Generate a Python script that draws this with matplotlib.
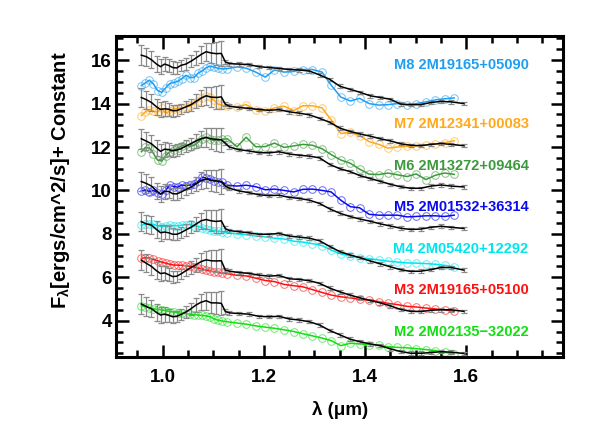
"""Near-IR spectra of M dwarfs (coloured) against spectral standards (black), offset by a constant."""

import matplotlib

matplotlib.use("Agg", force=True)

import matplotlib.pyplot as plt
from matplotlib.ticker import MultipleLocator

plt.rcParams["font.family"] = ["Liberation Sans", "DejaVu Sans"]
plt.rcParams["font.weight"] = "bold"
plt.rcParams["mathtext.fontset"] = "custom"
plt.rcParams["mathtext.rm"] = "Liberation Sans:bold"
plt.rcParams["mathtext.default"] = "rm"

# wavelength grids (microns)
std_wave = [0.958, 0.968, 0.978, 0.988, 0.996, 1.004, 1.012, 1.020, 1.028, 1.036,
            1.046, 1.056, 1.066, 1.076, 1.086, 1.096, 1.106, 1.116, 1.124, 1.132,
            1.15, 1.17, 1.19, 1.21, 1.23, 1.25, 1.27, 1.29, 1.31, 1.33,
            1.35, 1.37, 1.39, 1.41, 1.43, 1.45, 1.47, 1.49, 1.51, 1.53,
            1.55, 1.57, 1.595]
std_err = [0.45, 0.42, 0.40, 0.38, 0.36, 0.34, 0.30, 0.28, 0.26, 0.25,
           0.26, 0.28, 0.32, 0.38, 0.42, 0.48, 0.52, 0.56, 0.10, 0.09,
           0.08, 0.08, 0.08, 0.08, 0.08, 0.08, 0.08, 0.08, 0.08, 0.08,
           0.08, 0.08, 0.08, 0.08, 0.08, 0.08, 0.08, 0.08, 0.08, 0.08,
           0.08, 0.08, 0.08]
obj_wave = [0.958, 0.966, 0.974, 0.982, 0.990, 0.998, 1.006, 1.014, 1.022, 1.030,
            1.038, 1.046, 1.054, 1.062, 1.070, 1.078, 1.086, 1.094, 1.102, 1.110,
            1.118,
            1.128, 1.147, 1.165, 1.184, 1.203, 1.221, 1.240, 1.259, 1.277, 1.296,
            1.315, 1.333, 1.352, 1.371, 1.389, 1.408, 1.427, 1.445, 1.464, 1.483,
            1.501, 1.520, 1.539, 1.557, 1.576]

# spectral standards (black) + constant
m8_std = [16.23, 16.16, 16.02, 15.82, 15.70, 15.82, 15.76, 15.66, 15.64, 15.76,
          15.82, 15.95, 16.10, 16.26, 16.39, 16.33, 16.30, 16.31, 15.92, 15.84,
          15.82, 15.80, 15.70, 15.66, 15.62, 15.57, 15.55, 15.50, 15.32, 15.12,
          14.80, 14.66, 14.52, 14.36, 14.28, 14.20, 13.98, 13.95, 13.95, 14.05,
          14.10, 14.08, 14.00]
m7_std = [14.28, 14.18, 14.05, 13.85, 13.73, 13.76, 13.74, 13.67, 13.68, 13.75,
          13.85, 13.95, 14.10, 14.25, 14.36, 14.30, 14.28, 14.31, 13.97, 13.88,
          13.82, 13.78, 13.73, 13.69, 13.72, 13.62, 13.56, 13.48, 13.32, 13.14,
          12.87, 12.72, 12.60, 12.50, 12.38, 12.28, 12.15, 12.08, 12.06, 12.12,
          12.16, 12.12, 12.06]
m6_std = [12.38, 12.27, 12.15, 11.95, 11.80, 11.90, 11.88, 11.83, 11.86, 11.92,
          12.04, 12.15, 12.28, 12.38, 12.44, 12.38, 12.35, 12.33, 12.17, 12.00,
          11.88, 11.82, 11.74, 11.73, 11.78, 11.68, 11.62, 11.58, 11.50, 11.20,
          11.00, 10.87, 10.68, 10.55, 10.42, 10.28, 10.17, 10.10, 10.10, 10.20,
          10.25, 10.20, 10.16]
m5_std = [10.41, 10.32, 10.20, 9.98, 9.83, 9.96, 9.95, 9.85, 9.84, 9.92,
          10.04, 10.15, 10.30, 10.45, 10.53, 10.46, 10.44, 10.41, 10.20, 10.10,
          9.98, 9.90, 9.80, 9.76, 9.78, 9.68, 9.63, 9.55, 9.40, 9.15,
          8.95, 8.80, 8.68, 8.58, 8.46, 8.36, 8.26, 8.20, 8.22, 8.30,
          8.35, 8.30, 8.25]
m4_std = [8.56, 8.46, 8.40, 8.20, 8.05, 8.08, 8.05, 7.98, 7.98, 8.05,
          8.18, 8.30, 8.45, 8.60, 8.66, 8.60, 8.57, 8.60, 8.24, 8.15,
          8.10, 8.05, 7.98, 7.98, 8.02, 7.90, 7.85, 7.80, 7.68, 7.42,
          7.18, 7.03, 6.90, 6.75, 6.62, 6.48, 6.35, 6.27, 6.28, 6.35,
          6.45, 6.45, 6.33]
m3_std = [6.79, 6.64, 6.50, 6.30, 6.17, 6.20, 6.12, 6.03, 6.05, 6.15,
          6.30, 6.45, 6.58, 6.72, 6.80, 6.76, 6.75, 6.76, 6.33, 6.28,
          6.22, 6.18, 6.10, 6.05, 6.08, 5.93, 5.90, 5.84, 5.72, 5.50,
          5.33, 5.18, 5.05, 4.93, 4.82, 4.68, 4.52, 4.43, 4.42, 4.48,
          4.50, 4.50, 4.43]
m2_std = [4.77, 4.65, 4.55, 4.38, 4.26, 4.30, 4.25, 4.18, 4.20, 4.28,
          4.40, 4.55, 4.72, 4.85, 4.92, 4.82, 4.82, 4.80, 4.42, 4.36,
          4.33, 4.30, 4.20, 4.18, 4.20, 4.08, 4.03, 3.95, 3.80, 3.55,
          3.35, 3.15, 3.03, 2.93, 2.85, 2.70, 2.58, 2.50, 2.50, 2.53,
          2.57, 2.55, 2.49]

# observed objects (coloured) + constant
m8_obj = [14.83, 14.95, 15.08, 14.90, 14.60, 14.52, 14.72, 14.92, 14.97, 15.02,
          15.15, 15.30, 15.20, 15.20, 15.40, 15.50, 15.65, 15.72, 15.68, 15.62,
          15.60,
          15.61, 15.69, 15.63, 15.45, 15.22, 15.55, 15.45, 15.48, 15.57, 15.57,
          15.45, 14.85, 14.30, 14.12, 14.24, 14.00, 13.93, 13.95, 14.00, 13.93,
          14.00, 14.08, 14.17, 14.22, 14.26]
m7_obj = [13.45, 13.62, 13.72, 13.65, 13.60, 13.80, 13.55, 13.65, 13.75, 13.78,
          13.80, 13.83, 13.88, 13.98, 14.10, 14.28, 14.35, 14.30, 14.15, 13.97,
          13.92,
          13.88, 13.86, 13.95, 13.72, 13.66, 13.80, 13.88, 13.68, 13.90, 13.90,
          13.80, 13.25, 12.62, 12.68, 12.52, 12.25, 12.12, 11.95, 12.00, 12.03,
          12.05, 12.10, 12.14, 12.20, 12.29]
m6_obj = [11.78, 11.98, 11.95, 11.70, 11.40, 11.35, 11.60, 11.78, 11.85, 11.95,
          12.05, 12.12, 12.02, 12.08, 12.22, 12.38, 12.45, 12.35, 12.30, 12.32,
          12.36,
          12.38, 12.01, 12.45, 12.01, 12.02, 12.18, 11.98, 12.05, 12.12, 12.08,
          11.92, 11.65, 11.40, 11.25, 10.98, 10.75, 10.73, 10.80, 10.72, 10.64,
          10.76, 10.50, 10.70, 10.80, 10.74]
m5_obj = [9.98, 10.02, 9.95, 10.00, 9.90, 9.82, 10.00, 10.25, 10.18, 10.15,
          10.25, 10.22, 10.25, 10.30, 10.42, 10.60, 10.58, 10.52, 10.45, 10.40,
          10.38,
          10.24, 10.20, 10.24, 10.17, 10.03, 10.06, 10.00, 9.93, 10.05, 10.06,
          10.00, 9.93, 9.55, 9.25, 9.20, 8.90, 8.86, 8.86, 8.86, 8.78,
          8.80, 8.83, 8.83, 8.80, 8.86]
m4_obj = [8.40, 8.44, 8.47, 8.43, 8.38, 8.33, 8.36, 8.40, 8.38, 8.37,
          8.40, 8.42, 8.43, 8.38, 8.34, 8.28, 8.22, 8.18, 8.15, 8.12,
          8.10,
          8.05, 8.00, 7.96, 7.90, 7.86, 7.80, 7.76, 7.66, 7.62, 7.55,
          7.46, 7.25, 7.08, 6.98, 6.90, 6.85, 6.80, 6.74, 6.70, 6.66,
          6.65, 6.63, 6.60, 6.55, 6.48]
m3_obj = [6.87, 6.90, 6.88, 6.82, 6.76, 6.70, 6.65, 6.60, 6.56, 6.56,
          6.55, 6.53, 6.50, 6.47, 6.42, 6.38, 6.33, 6.28, 6.25, 6.22,
          6.19,
          6.16, 6.09, 6.06, 5.96, 5.85, 5.80, 5.67, 5.61, 5.56, 5.43,
          5.30, 5.18, 5.10, 5.05, 4.98, 4.95, 4.88, 4.80, 4.74, 4.66,
          4.63, 4.58, 4.54, 4.50, 4.43]
m2_obj = [4.68, 4.64, 4.60, 4.55, 4.52, 4.50, 4.46, 4.42, 4.40, 4.36,
          4.34, 4.32, 4.30, 4.28, 4.26, 4.24, 4.22, 4.18, 4.08, 4.02,
          3.98,
          3.95, 3.89, 3.84, 3.76, 3.70, 3.65, 3.58, 3.50, 3.40, 3.30,
          3.20, 3.08, 2.85, 2.96, 2.93, 2.90, 2.86, 2.80, 2.77, 2.75,
          2.71, 2.67, 2.62, 2.54, 2.47]

labels = ["M8 2M19165+05090", "M7 2M12341+00083", "M6 2M13272+09464",
          "M5 2M01532+36314", "M4 2M05420+12292", "M3 2M19165+05100",
          "M2 2M02135\u221232022"]
colors = ["#1e9ef2", "#ffa91c", "#3c9a3c", "#0a0af0", "#00e6ee", "#ff1010", "#10e010"]
obj_flux = [m8_obj, m7_obj, m6_obj, m5_obj, m4_obj, m3_obj, m2_obj]
std_flux = [m8_std, m7_std, m6_std, m5_std, m4_std, m3_std, m2_std]
label_y = [15.77, 13.04, 11.13, 9.22, 7.30, 5.41, 3.49]

fig = plt.figure(figsize=(5.98, 4.32), dpi=100)
ax = fig.add_axes([0.194, 0.1743, 0.7475, 0.7427])

for name, color, obj, std, ly in zip(labels, colors, obj_flux, std_flux, label_y):
	ax.plot(obj_wave, obj, color=color, lw=1.1, zorder=2)
	ax.plot(obj_wave, obj, ls="none", marker="o", ms=5.5, mfc="none", mec=color,
			mew=0.7, alpha=0.6, zorder=2)
	ax.errorbar(std_wave, std, yerr=std_err, fmt="none", ecolor="#8a8a8a",
				elinewidth=0.9, capsize=2.5, capthick=0.9, zorder=3)
	ax.plot(std_wave, std, color="black", lw=1.1, zorder=4)
	ax.text(1.723, ly, name, color=color, fontsize=10.5, fontweight="bold",
			ha="right", va="center")

ax.set_xlim(0.908, 1.791)
ax.set_ylim(2.34, 17.12)
ax.xaxis.set_major_locator(MultipleLocator(0.2))
ax.xaxis.set_minor_locator(MultipleLocator(0.05))
ax.yaxis.set_major_locator(MultipleLocator(2))
ax.yaxis.set_minor_locator(MultipleLocator(0.5))
ax.tick_params(which="both", direction="in", top=True, right=True, width=1.8)
ax.tick_params(which="major", length=9, labelsize=13.5)
ax.tick_params(which="minor", length=5)
ax.tick_params(axis="x", which="major", pad=9)
ax.tick_params(axis="y", which="major", pad=3)
for side in ax.spines.values():
	side.set_linewidth(2.2)
for lab in ax.get_xticklabels() + ax.get_yticklabels():
	lab.set_fontweight("bold")

fig.text(340 / 598, 1 - 410 / 432, "\u03bb (\u03bcm)", fontsize=13.5, fontweight="bold",
		 ha="center", va="center")
fig.text(60 / 598, 1 - 180 / 432, r"F$_\lambda$[ergs/cm^2/s]+ Constant", fontsize=14.5,
		 fontweight="bold", rotation=90, ha="center", va="center")

fig.savefig("out.png", dpi=100)
plt.close(fig)
